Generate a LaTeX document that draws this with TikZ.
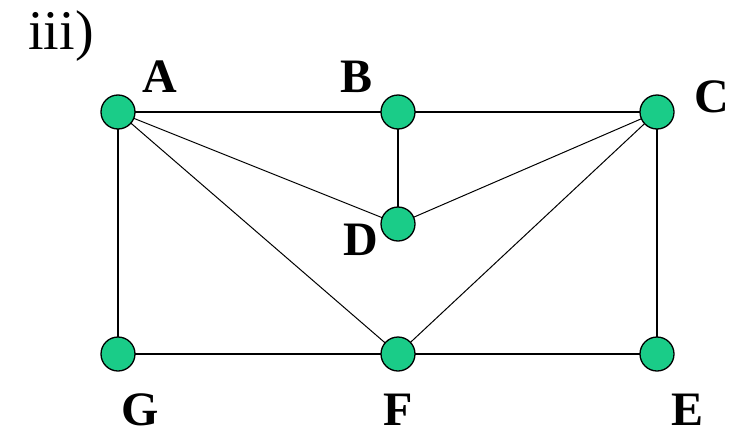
\documentclass[tikz,border=0pt]{standalone}
\usepackage{fontspec}
\setmainfont{Liberation Serif}
\begin{document}
\begin{tikzpicture}[x=1pt,y=-1pt,
  vtx/.style={circle,draw=black,line width=1.3pt,fill={rgb,255:red,26;green,204;blue,136},minimum size=34pt,inner sep=0pt},
  lab/.style={font=\fontsize{48}{48}\selectfont\bfseries,inner sep=0pt},
  edge/.style={line width=1.5pt},
  thin/.style={line width=1pt}]
\useasboundingbox (0,0) rectangle (743,439);
\node[font=\fontsize{56}{56}\selectfont,inner sep=0pt] (t) at (61,36) {iii)};
\coordinate (pA) at (118,112);
\coordinate (pB) at (398,112);
\coordinate (pC) at (657,112);
\coordinate (pD) at (398,224);
\coordinate (pG) at (118,354);
\coordinate (pF) at (398,354);
\coordinate (pE) at (657,354);
\draw[edge] (pA) -- (pB);
\draw[edge] (pB) -- (pC);
\draw[edge] (pB) -- (pD);
\draw[edge] (pA) -- (pG);
\draw[edge] (pC) -- (pE);
\draw[edge] (pG) -- (pF);
\draw[edge] (pF) -- (pE);
\draw[thin] (pA) -- (pD);
\draw[thin] (pC) -- (pD);
\draw[thin] (pA) -- (pF);
\draw[thin] (pC) -- (pF);
\node[vtx] (A) at (pA) {};
\node[vtx] (B) at (pB) {};
\node[vtx] (C) at (pC) {};
\node[vtx] (D) at (pD) {};
\node[vtx] (G) at (pG) {};
\node[vtx] (F) at (pF) {};
\node[vtx] (E) at (pE) {};
\node[lab] (lA) at (160,77) {A};
\node[lab] (lB) at (357,77) {B};
\node[lab] (lC) at (712,97) {C};
\node[lab] (lD) at (361,240) {D};
\node[lab] (lG) at (140,410) {G};
\node[lab] (lF) at (398,410) {F};
\node[lab] (lE) at (687,410) {E};
\end{tikzpicture}
\end{document}
